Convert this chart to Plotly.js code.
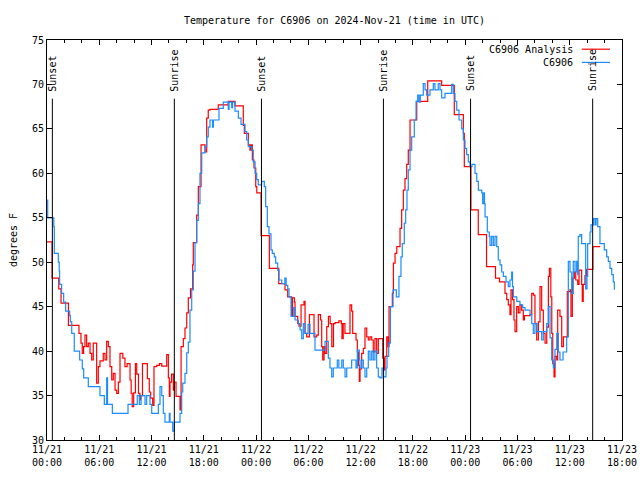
<!DOCTYPE html>
<html>
<head>
<meta charset="utf-8">
<script src="https://cdn.plot.ly/plotly-3.0.1.min.js"></script>
<style>html,body{margin:0;padding:0;background:#fff;}#chart{width:640px;height:480px;}</style>
</head>
<body>
<div id="chart"></div>
<script>
// Hours since 2024-11-21 00:00 UTC
var anaHours = [0.00,0.58,1.35,1.61,2.46,3.67,3.90,4.05,4.20,4.36,4.55,4.74,4.94,5.13,5.31,5.70,5.89,6.08,6.46,6.66,6.85,7.04,7.23,7.43,7.61,7.81,8.00,8.19,8.38,8.70,8.95,9.20,9.53,9.66,9.78,9.95,10.15,10.30,10.50,10.66,10.75,10.96,11.50,11.52,11.74,11.90,12.13,12.28,12.60,12.90,13.17,13.66,13.74,13.93,14.04,14.12,14.30,14.50,14.61,14.81,15.12,15.27,15.39,15.65,15.84,16.04,16.22,16.47,16.72,16.79,17.18,17.37,17.68,18.14,18.33,18.51,18.70,19.66,20.80,21.58,22.53,22.65,23.11,23.30,23.42,23.57,23.76,23.96,24.08,24.57,25.52,26.60,27.32,27.63,28.09,28.17,28.40,28.47,28.78,28.93,29.16,29.50,29.62,29.81,30.12,30.50,30.65,30.96,31.14,31.40,31.53,31.65,31.80,31.92,32.11,32.30,32.50,32.69,32.88,33.07,33.50,33.78,33.86,34.00,34.20,34.57,34.78,34.97,35.09,35.47,35.62,35.74,35.85,35.93,36.12,36.31,36.50,36.70,36.88,37.07,37.27,37.45,37.64,37.84,38.03,38.42,38.54,38.70,38.80,39.00,39.15,39.26,39.64,39.76,39.95,40.15,40.52,40.71,40.90,41.09,41.29,41.47,41.67,42.44,43.70,45.30,46.75,47.79,47.90,48.66,49.50,50.45,51.48,51.94,52.57,52.77,52.95,53.14,53.26,53.43,53.60,53.72,53.91,54.10,54.29,54.48,54.67,54.80,55.06,55.44,55.64,55.83,56.01,56.21,56.40,56.59,56.78,56.97,57.17,57.36,57.55,57.67,57.83,57.94,58.05,58.20,58.31,58.51,58.62,58.88,59.08,59.27,59.72,60.03,60.14,60.30,60.53,60.69,60.92,61.07,61.37,61.44,61.55,61.75,61.94,62.66,63.50];
var anaTemps = [52.3,48.2,47.0,45.4,42.9,42.0,40.9,39.75,40.5,41.8,40.5,40.9,39.75,39.0,40.9,36.4,38.25,38.9,39.75,39.0,41.1,40.5,38.25,36.75,37.5,35.6,35.25,36.5,39.75,39.2,38.25,38.6,36.75,35.25,33.75,35.3,38.6,37.4,35.25,34.5,35.0,38.6,38.6,36.9,35.4,34.7,33.9,38.25,38.4,38.6,38.3,38.3,39.6,37.0,34.9,36.5,37.4,35.6,36.5,34.9,34.9,33.4,40.5,41.4,42.6,44.3,46.0,47.0,49.7,52.2,55.3,58.5,63.2,62.4,66.2,67.1,67.2,67.7,68.1,67.6,65.4,64.5,63.2,62.6,63.2,61.5,60.6,58.5,57.8,53.0,49.3,47.6,46.9,46.1,43.9,46.0,45.5,43.9,43.1,42.8,45.2,45.6,42.0,41.6,44.1,44.1,41.6,41.8,44.1,43.5,40.5,39.0,40.5,39.75,42.75,43.9,43.1,40.5,43.1,43.2,43.4,43.1,41.4,43.1,42.0,42.0,45.2,44.5,42.0,41.25,39.9,38.4,36.6,38.0,39.75,40.3,42.6,41.6,41.25,41.6,41.25,39.9,41.4,39.75,41.4,41.4,39.2,37.9,39.4,41.6,40.5,45.0,46.5,49.9,51.0,51.75,53.8,55.9,58.1,59.4,61.0,62.6,66.0,68.1,70.4,69.9,66.6,64.5,60.75,55.9,53.1,49.5,48.2,47.8,46.5,45.8,45.2,44.1,46.9,45.8,43.5,42.2,45.0,44.3,45.2,44.6,43.5,44.0,44.0,44.1,46.5,46.3,43.1,41.25,43.3,47.25,44.6,42.0,40.9,42.7,48.4,49.3,46.1,42.0,38.6,37.1,39.4,39.0,44.6,43.9,40.5,41.6,46.7,46.9,43.9,48.2,48.9,48.0,47.5,49.1,47.5,45.6,47.5,48.5,49.2,51.75,51.75];

var obsHours = [0.00,0.08,0.78,0.84,1.30,1.40,1.45,1.68,1.91,2.14,2.60,2.68,2.84,3.13,3.75,4.05,4.21,4.74,6.08,6.58,6.85,6.95,7.50,9.30,10.36,10.60,10.80,11.25,11.44,11.82,12.02,12.78,12.97,13.17,13.35,13.54,14.04,14.12,14.43,14.61,15.27,15.46,15.58,15.84,16.04,16.22,16.41,16.61,16.79,16.99,17.18,17.37,17.56,17.76,18.14,18.33,18.51,18.71,19.00,19.10,19.74,20.24,20.81,20.90,21.20,21.30,21.58,21.96,22.27,22.73,22.92,23.11,23.50,23.68,23.88,24.07,24.25,24.64,24.94,25.10,25.29,25.48,25.71,25.86,26.09,26.25,26.48,26.63,26.94,27.30,27.45,27.63,27.78,28.01,28.32,28.47,28.85,29.04,29.24,29.42,29.61,29.96,30.19,30.76,31.91,32.29,32.48,32.68,32.86,33.32,33.50,33.83,34.01,34.21,34.40,34.97,35.47,35.62,35.85,35.93,36.12,36.31,36.50,36.70,36.88,37.07,37.27,37.45,37.64,37.84,38.03,38.22,38.45,38.63,38.91,39.03,39.22,39.42,39.72,40.10,40.40,40.63,40.78,41.01,41.17,41.32,41.47,41.67,41.86,42.16,42.36,42.55,42.70,42.85,43.19,43.39,43.58,43.96,44.34,44.53,44.91,45.11,45.30,45.68,46.45,46.64,46.83,47.03,47.29,47.60,47.79,47.98,48.17,48.36,48.55,48.78,49.13,49.33,49.51,49.90,50.01,50.16,50.22,50.28,50.54,50.77,50.85,51.04,51.23,51.42,51.62,51.80,52.00,52.19,52.38,52.69,52.95,53.14,53.34,53.43,53.53,53.92,54.29,54.60,54.87,55.44,55.64,55.82,56.01,56.21,56.78,56.97,57.36,57.55,57.74,57.93,58.12,58.31,58.51,58.69,58.88,59.23,59.65,59.84,60.03,60.23,60.41,60.61,60.80,60.92,60.98,61.18,61.37,61.83,61.98,62.06,62.33,62.44,62.71,62.90,63.02,63.21,63.47,63.97,64.24,64.43,64.62,64.82,65.00,65.12];
var obsTemps = [57,55,54,51,50,49,47.5,46.5,45.5,44.5,44,43.3,42,40,39,38,37,36,35,34,37,34,33,34,35,34,35,34,35,34,33,34,36,35,33,32,33,32,31,32,33,35.4,36.4,37.5,39.8,41,44.6,46.9,49,52.2,54.7,56.6,60,62.3,63,64.1,65.2,66,65.2,66,67.3,68,67.2,68,67.4,68,67,66.2,65.5,64.7,63.75,63,62.6,61.3,60,59.3,58.7,59.1,58.5,56.25,54,53.2,51.4,51,50.6,49.9,49.1,48,47.6,48.2,47.4,47,46.1,43.9,44.9,43.5,43.1,42.4,41.4,43.1,42,43,42,40.1,41.1,39.2,38.1,37.1,38.1,39,38.1,39,38.1,37.1,38.1,39,38.1,40.1,39,38.1,39,38.1,37.1,38.1,40,39,40,39,40,38.1,37.1,37,38.1,37.1,38.1,39.4,40.9,45,46.9,46.1,48.4,50.6,52.1,54.4,55.9,58.1,60.4,62.6,64.1,66,68.1,68.8,68,68.8,70.1,69.4,68.8,69.4,70.1,69.4,70.1,69.4,68.5,69,70,69,68.1,67.1,66,65,63.75,62.8,62.1,61.3,60.75,61,60,59.1,58.1,57.8,56.6,57.8,56.6,55.1,53.4,52.9,51.9,52.9,51.9,52.9,51.75,50.25,49.7,48.9,48.4,47.8,47.25,48,48.9,47.25,46.1,45.6,45.2,44.9,44.6,44.1,43.1,42,43.1,42.2,41.25,42.2,43.1,45,41.5,39,38.1,40.2,42,39.9,39,39.9,41.6,50.1,48.9,46.5,50.1,48.9,50.1,48.6,52.9,53.1,52.1,47,48.4,52.1,53.4,54.2,54.9,54.2,54.9,54,52.1,51.4,50.6,50.1,49.3,48.6,47.8,46.9];

var sunsetTimes = ["2024-11-21 00:37", "2024-11-22 00:37", "2024-11-23 00:37"];
var sunriseTimes = ["2024-11-21 14:37", "2024-11-22 14:37", "2024-11-23 14:38"];
var seriesNames = ["C6906 Analysis", "C6906"];
var seriesColors = ["#ff0000", "#1a8cff"];

var base = Date.UTC(2024, 10, 21, 0, 0, 0);
function toTime(h) { return base + h * 3600000; }

var FONT = "DejaVu Sans Mono";
var traces = [
  {x: anaHours.map(toTime), y: anaTemps, name: seriesNames[0], type: "scatter", mode: "lines",
   line: {shape: "hv", color: seriesColors[0], width: 1.2}},
  {x: obsHours.map(toTime), y: obsTemps, name: seriesNames[1], type: "scatter", mode: "lines",
   line: {shape: "hv", color: seriesColors[1], width: 1.2}}
];

var shapes = [], annotations = [];
function addSun(t, label) {
  shapes.push({type: "line", xref: "x", yref: "y", x0: t, x1: t, y0: 30, y1: 68.4,
               line: {color: "black", width: 1}});
  annotations.push({xref: "x", yref: "y", x: t, y: 69.0, text: label, textangle: -90,
                    showarrow: false, xanchor: "center", yanchor: "bottom",
                    font: {family: FONT, size: 10, color: "black"}});
}
sunsetTimes.forEach(function (t) { addSun(t, "Sunset"); });
sunriseTimes.forEach(function (t) { addSun(t, "Sunrise"); });

// legend (text left of the sample line, as in the reference)
var legY = [0.977, 0.944];
for (var i = 0; i < 2; i++) {
  annotations.push({xref: "paper", yref: "paper", x: 0.918, y: legY[i], text: seriesNames[i],
                    showarrow: false, xanchor: "right", yanchor: "middle",
                    font: {family: FONT, size: 10, color: "black"}});
  shapes.push({type: "line", xref: "paper", yref: "paper", x0: 0.930, x1: 0.979, y0: legY[i], y1: legY[i],
               line: {color: seriesColors[i], width: 1.2}});
}

var layout = {
  width: 640, height: 480,
  margin: {l: 47, r: 18, t: 40, b: 40},
  paper_bgcolor: "white", plot_bgcolor: "white",
  showlegend: false,
  font: {family: FONT, size: 10, color: "black"},
  title: {text: "Temperature for C6906 on 2024-Nov-21 (time in UTC)", x: 0.5, xref: "paper",
          xanchor: "center", y: 0.958, yanchor: "middle", font: {family: FONT, size: 10, color: "black"}},
  xaxis: {type: "date", range: [toTime(0), toTime(66)], tick0: toTime(0), dtick: 21600000,
          tickformat: "%m/%d<br>%H:%M", ticks: "inside", ticklen: 5, tickcolor: "black",
          showline: true, linecolor: "black", linewidth: 1, mirror: "ticks",
          showgrid: false, zeroline: false,
          tickfont: {family: FONT, size: 10, color: "black"},
          minor: {dtick: 7200000, ticks: "inside", ticklen: 3, tickcolor: "black", showgrid: false}},
  yaxis: {range: [30, 75], dtick: 5, tick0: 30, ticks: "inside", ticklen: 5, tickcolor: "black",
          showline: true, linecolor: "black", linewidth: 1, mirror: "ticks",
          showgrid: false, zeroline: false,
          tickfont: {family: FONT, size: 10, color: "black"},
          title: {text: "degrees F", font: {family: FONT, size: 10, color: "black"}, standoff: 12}},
  shapes: shapes,
  annotations: annotations
};

Plotly.newPlot("chart", traces, layout, {staticPlot: true, displayModeBar: false});
</script>
</body>
</html>
